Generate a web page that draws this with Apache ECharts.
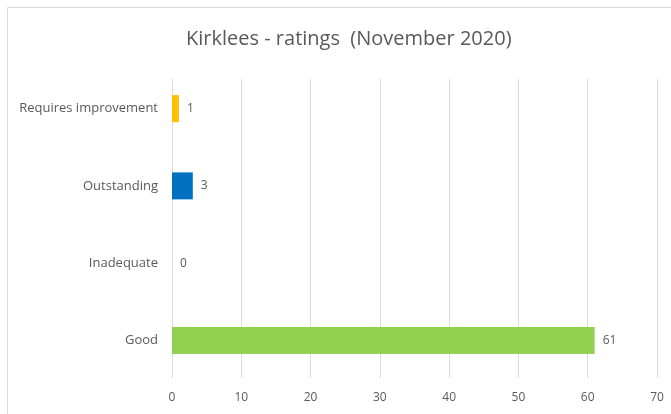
<!DOCTYPE html>
<html><head><meta charset="utf-8">
<script src="https://cdn.jsdelivr.net/npm/echarts@6/dist/echarts.min.js"></script>
<style>html,body{margin:0;padding:0;background:#fff}#c{width:671px;height:414px}</style>
</head><body><div id="c"></div>
<script>
const categories = ['Good', 'Inadequate', 'Outstanding', 'Requires improvement'];
const values = [61, 0, 3, 1];
const colors = ['#92D050', '#4472C4', '#0070C0', '#FFC000'];
const xTicks = [0, 10, 20, 30, 40, 50, 60, 70];
const titleText = 'Kirklees - ratings  (November 2020)';

const font = '"Open Sans", "Liberation Sans", sans-serif';
const chart = echarts.init(document.getElementById('c'));
chart.setOption({
  animation: false,
  backgroundColor: '#fff',
  title: {
    text: titleText, left: 181, top: 24,
    textStyle: { color: '#595959', fontSize: 20, fontWeight: 'normal', fontFamily: font }
  },
  graphic: [{
    type: 'rect', shape: { x: 7.5, y: 7.5, width: 700, height: 500 },
    style: { fill: 'none', stroke: '#d9d9d9', lineWidth: 1 }, silent: true, z: -1
  }],
  grid: [
    { left: 172, right: 14, top: 79, bottom: 36 },
    { left: 172, right: 14, top: 70, bottom: 35 }
  ],
  xAxis: [
    { gridIndex: 0, type: 'value', min: xTicks[0], max: xTicks[xTicks.length - 1], interval: 10,
      axisLine: { show: false }, axisTick: { show: false }, axisLabel: { show: false },
      splitLine: { lineStyle: { color: '#d9d9d9', width: 1 } } },
    { gridIndex: 1, type: 'value', min: xTicks[0], max: xTicks[xTicks.length - 1], interval: 10,
      axisLine: { show: false }, axisTick: { show: false }, splitLine: { show: false },
      axisLabel: { color: '#595959', fontSize: 12, fontFamily: font, margin: 13 } }
  ],
  yAxis: [
    { gridIndex: 0, type: 'category', data: categories, show: false },
    { gridIndex: 1, type: 'category', data: categories,
      axisLine: { show: false }, axisTick: { show: false },
      axisLabel: { color: '#595959', fontSize: 13, fontFamily: font, margin: 14 } }
  ],
  series: [{
    type: 'bar', xAxisIndex: 1, yAxisIndex: 1, barWidth: 27,
    data: values.map((v, i) => ({ value: v, itemStyle: { color: colors[i] } })),
    label: { show: true, position: 'right', distance: 8, color: '#595959', fontSize: 12, fontFamily: font }
  }]
});
</script></body></html>
